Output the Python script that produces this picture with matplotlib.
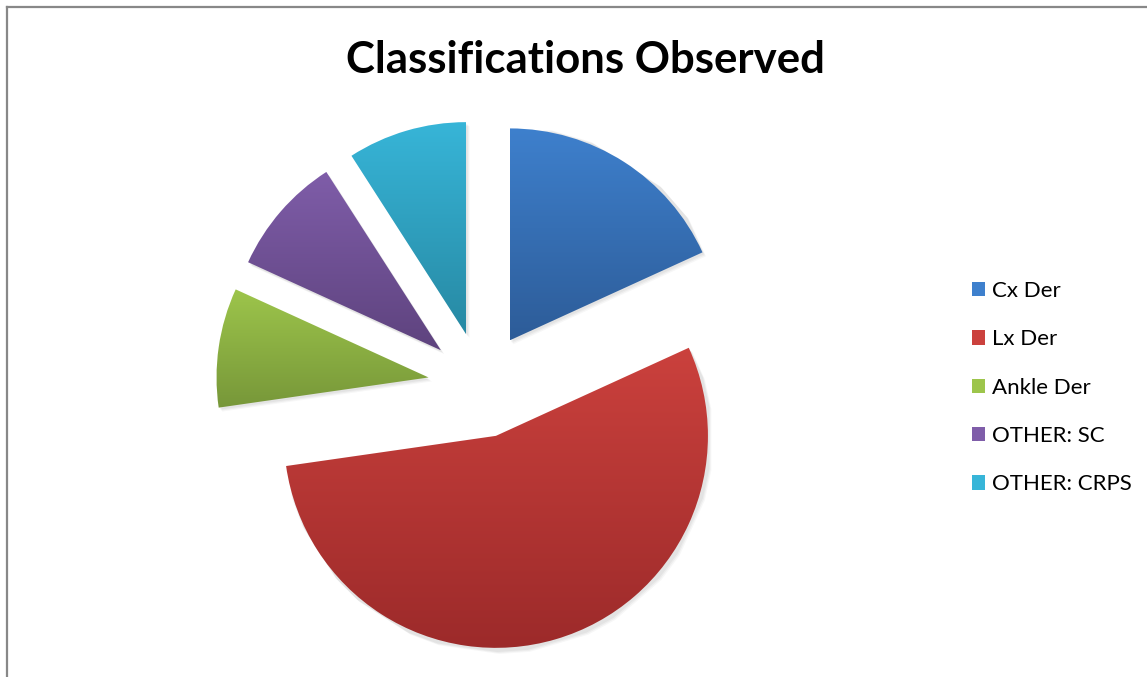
import matplotlib
matplotlib.use('Agg')
import matplotlib.pyplot as plt
import numpy as np
from matplotlib.colors import LinearSegmentedColormap
from matplotlib.patches import Patch
from matplotlib.lines import Line2D

# data
labels = ['Cx Der', 'Lx Der', 'Ankle Der', 'OTHER: SC', 'OTHER: CRPS']
counts = [2, 6, 1, 1, 1]
top_colors = ['#3E80CD', '#CB413D', '#9DC54B', '#7F5DA9', '#37B5D8']
bot_colors = ['#2D5C98', '#9C2A2A', '#779739', '#5E437E', '#2789A3']

W, H = 1147, 677
fig = plt.figure(figsize=(W / 100, H / 100), dpi=100)
ax = fig.add_axes([0, 0, 1, 1])

# chart border (left + top only visible)
fig.add_artist(Line2D([7.5 / W, 7.5 / W], [0, 1 - 6.5 / H], color='#888888', lw=1.6))
fig.add_artist(Line2D([7.5 / W, 1], [1 - 6.5 / H, 1 - 6.5 / H], color='#888888', lw=1.6))

R = 212
wedges, _ = ax.pie(counts, startangle=90, counterclock=False,
                   explode=[0.25 * R] * len(counts), center=(481, 292), radius=R,
                   frame=True)
ax.set_xlim(0, W)
ax.set_ylim(0, H)
ax.set_aspect('equal')
ax.axis('off')

grad = np.linspace(1, 0, 256).reshape(-1, 1)
for w, c1, c2 in zip(wedges, top_colors, bot_colors):
    w.set_facecolor('none')
    w.set_edgecolor('none')
    verts = w.get_path().vertices
    x0, y0 = verts.min(axis=0)
    x1, y1 = verts.max(axis=0)
    # soft shadow
    for k, a in enumerate([0.04, 0.04, 0.03]):
        sh = plt.Polygon(verts + [1.5 + k, -2 - k], closed=True, facecolor='black',
                         edgecolor='none', alpha=a, zorder=1)
        ax.add_patch(sh)
    cmap = LinearSegmentedColormap.from_list('g', [c2, c1])
    im = ax.imshow(grad, cmap=cmap, extent=[x0, x1, y0, y1], aspect='auto',
                   origin='upper', zorder=2, interpolation='bilinear')
    im.set_clip_path(w)

ax.set_xlim(0, W)
ax.set_ylim(0, H)

fig.text(585 / W, 1 - 60 / H, 'Classifications Observed', ha='center', va='center',
         fontsize=31.5, fontweight='bold', family='Lato')

handles = [Patch(facecolor=c, edgecolor='none') for c in top_colors]
leg = fig.legend(handles, labels, loc='upper left', bbox_to_anchor=(952 / W, 1 - 261 / H),
                 frameon=False, handlelength=0.6, handleheight=0.6, handletextpad=0.3,
                 labelspacing=1.275, prop={'family': 'Lato', 'size': 16})

fig.savefig('out.png', dpi=100)
